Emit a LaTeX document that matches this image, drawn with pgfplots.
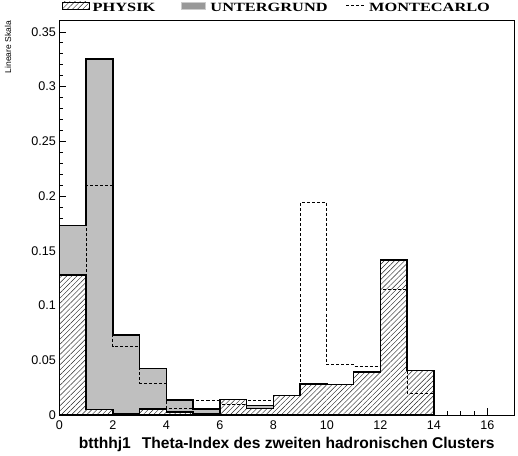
\documentclass[border=0pt]{standalone}
\usepackage{fontspec}
\setmainfont{Liberation Sans}
\newfontfamily\legfont{Liberation Serif}
\usepackage{graphicx}
\usepackage{pgfplots}
\pgfplotsset{compat=1.18}
\usepackage{pgfplotstable}
\usetikzlibrary{patterns.meta}

% bin contents, bins of width 1 starting at x; last row repeats bin 13 to close the step
\pgfplotstableread{
x  total   phys    mc
0  0.173   0.128   0.128
1  0.325   0.005   0.210
2  0.073   0.0012  0.063
3  0.0426  0.0055  0.0294
4  0.014   0.0028  0.0064
5  0.0058  0.0015  0.0135
6  0.0142  0.0142  0.0095
7  0.009   0.006   0.0135
8  0.0182  0.0182  0.0182
9  0.0286  0.0286  0.194
10 0.0282  0.0282  0.0463
11 0.0395  0.0395  0.0447
12 0.1415  0.1415  0.1152
13 0.041   0.041   0.0202
14 0.041   0.041   0.0202
}\hist

\tikzset{hatch/.style={pattern={Lines[angle=45,distance=3.6pt,line width=0.45pt]},pattern color=black!85}}
\newcommand\legtext[1]{{\legfont\bfseries\fontsize{12.5}{14}\selectfont\scalebox{1.3}[1]{#1}}}

\begin{document}
\begin{tikzpicture}
\begin{axis}[
    scale only axis,
    width=452pt, height=392pt,
    xmin=0, xmax=17, ymin=0, ymax=0.36,
    xtick={0,2,...,16},
    ytick={0,0.05,0.1,0.15,0.2,0.25,0.3,0.35},
    minor x tick num=3,
    minor y tick num=4,
    tick pos=left,
    tick align=inside,
    major tick length=7pt,
    minor tick length=4pt,
    every tick/.style={black, line width=0.6pt},
    axis line style={line width=0.8pt},
    ticklabel style={font=\fontsize{12.5}{14}\selectfont},
    /pgf/number format/assume math mode=true,
    yticklabel style={/pgf/number format/fixed, /pgf/number format/precision=2},
    xticklabel style={yshift=-2pt},
    xlabel={btthhj1\hspace{11pt}Theta-Index des zweiten hadronischen Clusters},
    xlabel style={font=\bfseries\fontsize{15.5}{17}\selectfont, yshift=-1pt},
    clip=false,
    const plot,
]
% UNTERGRUND stacked on PHYSIK
\addplot[draw=none, fill=black!25] table[y=total] {\hist} \closedcycle;
\addplot[draw=none, fill=white] table[y=phys] {\hist} \closedcycle;
\addplot[draw=none, hatch] table[y=phys] {\hist} \closedcycle;
% MONTECARLO
\addplot[black, line width=0.7pt, dash pattern=on 3pt off 2pt] table[y=mc] {\hist};
% outlines
\addplot[black, line width=1.5pt, line join=miter] table[y=phys] {\hist} \closedcycle;
\addplot[black, line width=1.5pt, line join=miter] table[y=total] {\hist} \closedcycle;

% legend
\draw[hatch] (rel axis cs:0.0066,1.0306) rectangle (rel axis cs:0.066,1.0485);
\draw[black!20, fill=black!40] (rel axis cs:0.268,1.0306) rectangle (rel axis cs:0.321,1.0485);
\draw[black, line width=0.7pt, dash pattern=on 3pt off 2pt] (rel axis cs:0.631,1.039) -- (rel axis cs:0.670,1.039);
\node[anchor=west, inner sep=0pt] at (rel axis cs:0.073,1.035) {\legtext{PHYSIK}};
\node[anchor=west, inner sep=0pt] at (rel axis cs:0.332,1.035) {\legtext{UNTERGRUND}};
\node[anchor=west, inner sep=0pt] at (rel axis cs:0.681,1.035) {\legtext{MONTECARLO}};
% y label
\node[rotate=90, anchor=east, inner sep=0pt, font=\fontsize{8.5}{9}\selectfont] at ([xshift=-51pt]rel axis cs:0,1) {Lineare Skala};
% margins of the page
\path ([xshift=-59pt]rel axis cs:0,1.053) (rel axis cs:1.0088,-0.094);
\end{axis}
\end{tikzpicture}
\end{document}
